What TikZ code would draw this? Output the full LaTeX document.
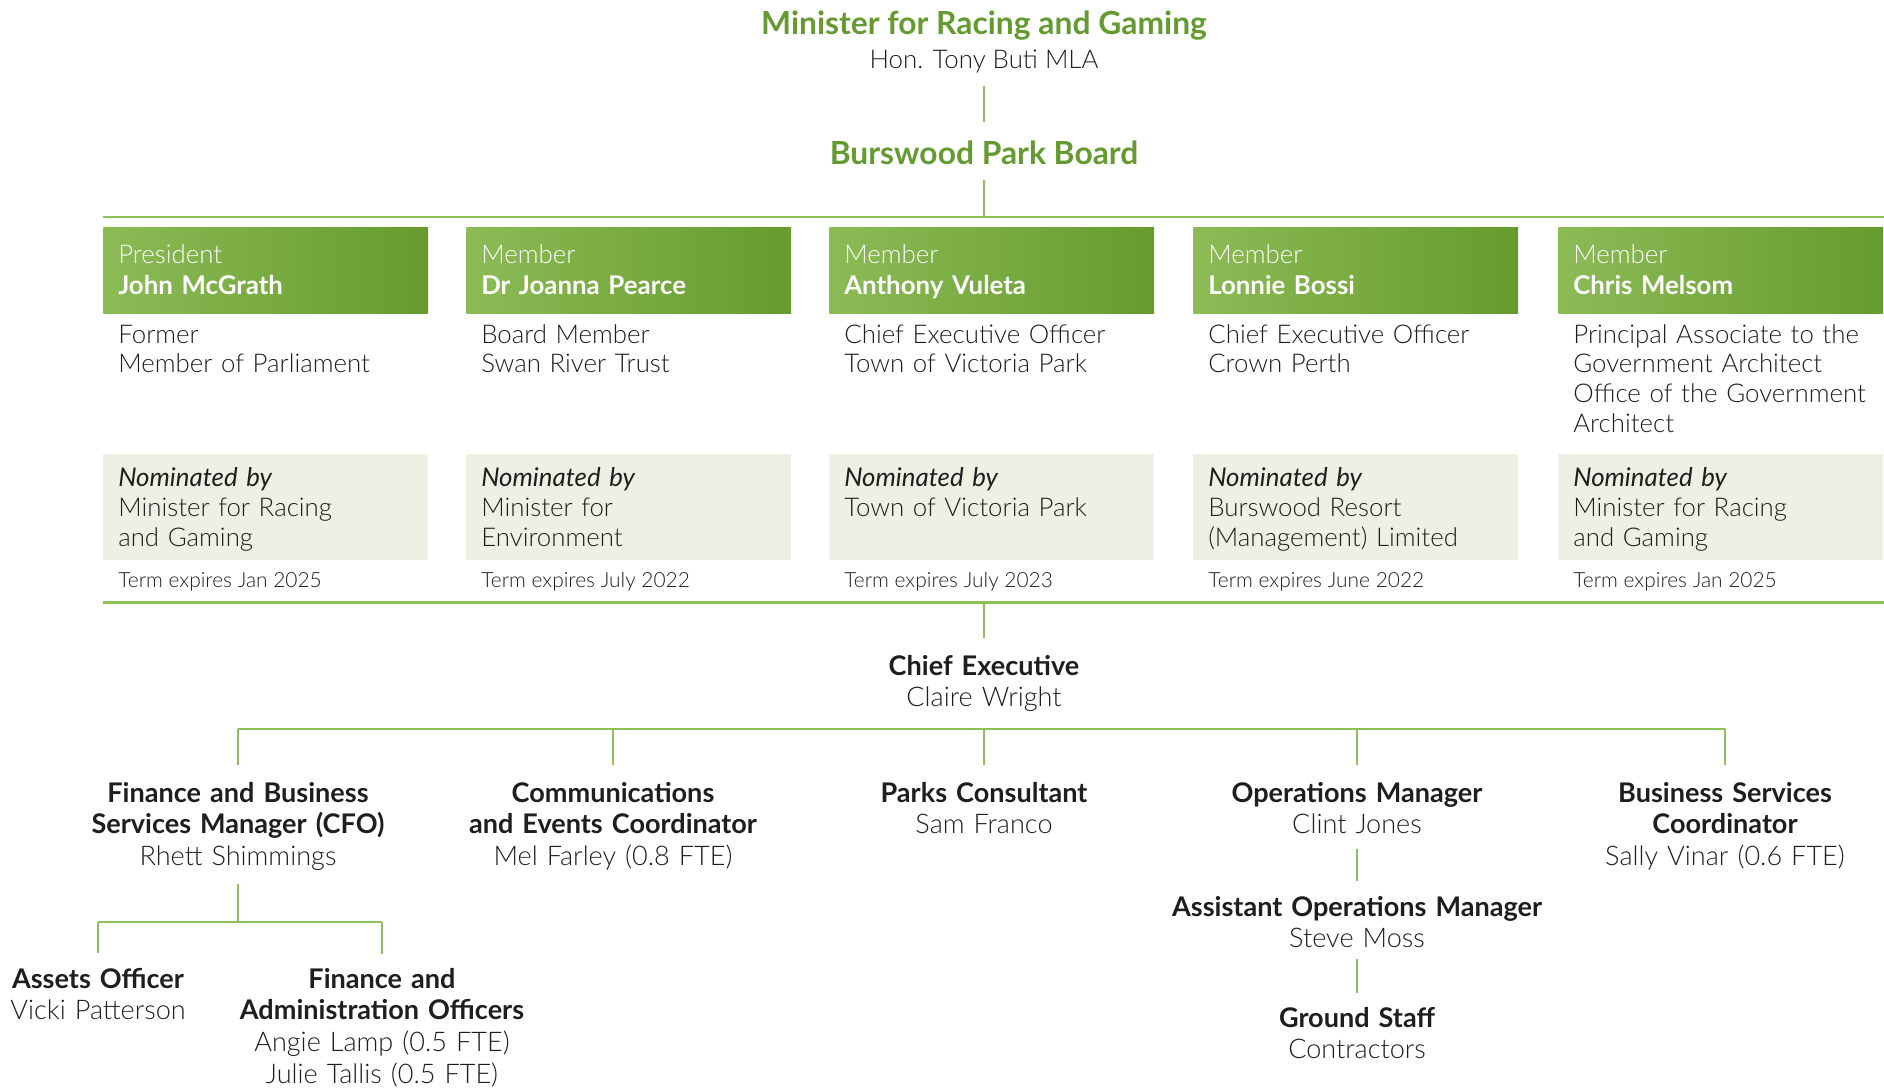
\documentclass[tikz,border=0pt]{standalone}
\usepackage{fontspec}
\IfFontExistsTF{Lato Light}
  {\setmainfont{Lato Light}[BoldFont={Lato Bold}, ItalicFont={Lato Italic}, BoldItalicFont={Lato Bold Italic}]}
  {\setmainfont{Lato}}
\usepackage{tikz}
\usetikzlibrary{positioning}
\definecolor{bpgreen}{RGB}{101,154,49}
\definecolor{headlight}{RGB}{140,187,85}
\definecolor{headdark}{RGB}{101,155,47}
\definecolor{linegreen}{RGB}{141,192,86}
\definecolor{nomgrey}{RGB}{237,240,227}
\definecolor{ink}{RGB}{30,30,30}

\tikzset{
  every node/.style={text=ink, inner sep=0pt},
  title/.style={anchor=base, font=\fontsize{18.1}{22}\selectfont\bfseries, text=bpgreen},
  head/.style={anchor=north west, left color=headlight, right color=headdark,
    text=white, align=left, text width=167.8pt, inner xsep=8.5pt,
    text height=20.4pt, text depth=28.9pt, font=\fontsize{14.7}{18.1}\selectfont},
  role/.style={anchor=base west, align=left, text width=175pt,
    font=\fontsize{14.7}{17}\selectfont},
  nom/.style={anchor=north west, fill=nomgrey, align=left, text width=167.8pt,
    inner xsep=8.5pt, text height=18.1pt, text depth=42pt,
    font=\fontsize{14.7}{17.3}\selectfont},
  term/.style={anchor=base west, font=\fontsize{11.9}{13}\selectfont},
  post/.style={anchor=base, align=center, text width=230pt,
    font=\fontsize{15.4}{18.1}\selectfont},
  link/.style={draw=linegreen, line width=1.1pt},
  rule/.style={draw=linegreen, line width=1.7pt},
}

\begin{document}
\begin{tikzpicture}[x=0.02cm, y=-0.02cm]
  \useasboundingbox (0,0) rectangle (1884,1089);

  % minister and board
  \node[title] (minister) at (984,34) {Minister for Racing and Gaming};
  \node[anchor=base, font=\fontsize{14.7}{17}\selectfont] (mname) at (984,68) {Hon. Tony Buti MLA};
  \node[title] (board) at (984,164) {Burswood Park Board};
  \draw[link, shorten <=7.4pt, shorten >=10.2pt] (mname.south) -- (board.north);

  \draw[rule] (103,217) -- (1884,217);
  \coordinate (toprule) at (984,217);
  \draw[link, shorten <=8.5pt] (board.south) -- (toprule);

  % board members
  \node[head] (hd1) at (103,227) {President\\\textbf{John McGrath}};
  \node[role] (role1) at (118,343) {Former\\Member of Parliament};
  \node[nom]  (nom1) at (103,454) {\textit{Nominated by}\\Minister for Racing\\and Gaming};
  \node[term] (term1) at (118,587) {Term expires Jan 2025};

  \node[head] (hd2) at (466,227) {Member\\\textbf{Dr Joanna Pearce}};
  \node[role] (role2) at (481,343) {Board Member\\Swan River Trust};
  \node[nom]  (nom2) at (466,454) {\textit{Nominated by}\\Minister for\\Environment};
  \node[term] (term2) at (481,587) {Term expires July 2022};

  \node[head] (hd3) at (829,227) {Member\\\textbf{Anthony Vuleta}};
  \node[role] (role3) at (844,343) {Chief Executive Officer\\Town of Victoria Park};
  \node[nom]  (nom3) at (829,454) {\textit{Nominated by}\\Town of Victoria Park};
  \node[term] (term3) at (844,587) {Term expires July 2023};

  \node[head] (hd4) at (1193,227) {Member\\\textbf{Lonnie Bossi}};
  \node[role] (role4) at (1208,343) {Chief Executive Officer\\Crown Perth};
  \node[nom]  (nom4) at (1193,454) {\textit{Nominated by}\\Burswood Resort\\(Management) Limited};
  \node[term] (term4) at (1208,587) {Term expires June 2022};

  \node[head] (hd5) at (1558,227) {Member\\\textbf{Chris Melsom}};
  \node[role] (role5) at (1573,343) {Principal Associate to the\\Government Architect\\Office of the Government\\Architect};
  \node[nom]  (nom5) at (1558,454) {\textit{Nominated by}\\Minister for Racing\\and Gaming};
  \node[term] (term5) at (1573,587) {Term expires Jan 2025};

  \draw[rule] (103,602) -- (1884,602);
  \coordinate (botrule) at (984,602);

  % staff
  \node[post] (chief) at (984,675) {\textbf{Chief Executive}\\Claire Wright};
  \draw[link, shorten >=9.6pt] (botrule) -- (chief.north);

  \node[post] (cfo)   at (238,802)  {\textbf{Finance and Business}\\\textbf{Services Manager (CFO)}\\Rhett Shimmings};
  \node[post] (comms) at (613,802)  {\textbf{Communications}\\\textbf{and Events Coordinator}\\Mel Farley (0.8 FTE)};
  \node[post] (parks) at (984,802)  {\textbf{Parks Consultant}\\Sam Franco};
  \node[post] (ops)   at (1357,802) {\textbf{Operations Manager}\\Clint Jones};
  \node[post] (bsc)   at (1725,802) {\textbf{Business Services}\\\textbf{Coordinator}\\Sally Vinar (0.6 FTE)};

  \coordinate (bus) at (984,729);
  \draw[link] (cfo.north |- bus) -- (bsc.north |- bus);
  \draw[link, shorten >=9.6pt] (cfo.north |- bus) -- (cfo.north);
  \draw[link, shorten >=9.6pt] (comms.north |- bus) -- (comms.north);
  \draw[link, shorten >=9.6pt] (parks.north |- bus) -- (parks.north);
  \draw[link, shorten >=9.6pt] (ops.north |- bus) -- (ops.north);
  \draw[link, shorten >=9.6pt] (bsc.north |- bus) -- (bsc.north);

  % finance team
  \node[post] (assets)   at (98,988)  {\textbf{Assets Officer}\\Vicki Patterson};
  \node[post] (finadmin) at (382,988) {\textbf{Finance and}\\\textbf{Administration Officers}\\Angie Lamp (0.5 FTE)\\Julie Tallis (0.5 FTE)};
  \coordinate (finbus) at (238,922);
  \draw[link, shorten <=7.4pt] (cfo.south) -- (finbus);
  \draw[link] (assets.north |- finbus) -- (finadmin.north |- finbus);
  \draw[link, shorten >=8pt] (assets.north |- finbus) -- (assets.north);
  \draw[link, shorten >=8pt] (finadmin.north |- finbus) -- (finadmin.north);

  % operations team
  \node[post] (asstops) at (1357,916)  {\textbf{Assistant Operations Manager}\\Steve Moss};
  \node[post] (ground)  at (1357,1027) {\textbf{Ground Staff}\\Contractors};
  \draw[link, shorten <=8.5pt, shorten >=8.5pt] (ops.south) -- (asstops.north);
  \draw[link, shorten <=6.2pt, shorten >=8pt] (asstops.south) -- (ground.north);
\end{tikzpicture}
\end{document}
